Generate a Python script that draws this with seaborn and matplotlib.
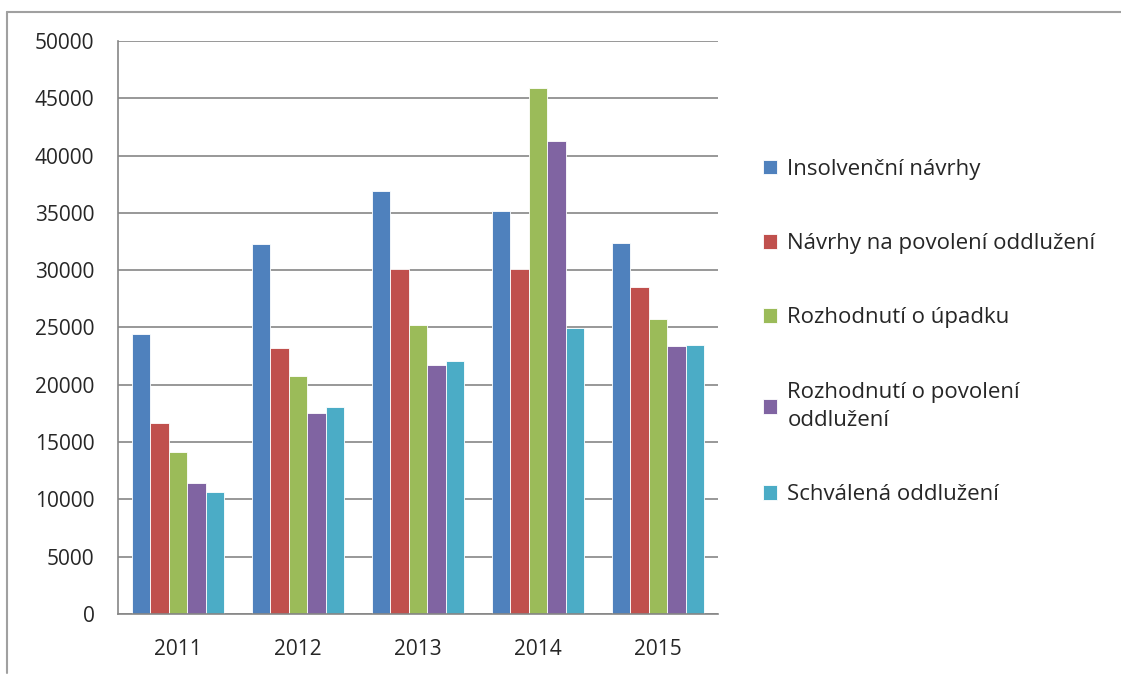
import pandas as pd
import matplotlib.pyplot as plt
import seaborn as sns
from matplotlib.lines import Line2D

# Data
years = ['2011', '2012', '2013', '2014', '2015']
insolvencni_navrhy = [24400, 32300, 36950, 35200, 32400]
navrhy_oddluzeni = [16650, 23200, 30100, 30080, 28550]
rozhodnuti_upadek = [14100, 20750, 25200, 45900, 25750]
rozhodnuti_povoleni = [11400, 17500, 21700, 41250, 23350]
schvalena_oddluzeni = [10650, 18050, 22100, 24950, 23450]

series_names = ['Insolvenční návrhy', 'Návrhy na povolení oddlužení',
                'Rozhodnutí o úpadku', 'Rozhodnutí o povolení\noddlužení',
                'Schválená oddlužení']
series_values = [insolvencni_navrhy, navrhy_oddluzeni, rozhodnuti_upadek,
                 rozhodnuti_povoleni, schvalena_oddluzeni]
colors = ['#4F81BD', '#C0504D', '#9BBB59', '#8064A2', '#4BACC6']

rows = []
for name, vals in zip(series_names, series_values):
    for y, v in zip(years, vals):
        rows.append({'Rok': y, 'Počet': v, 'Série': name})
df = pd.DataFrame(rows)

sns.set_style('white')
plt.rcParams['font.family'] = ['Open Sans', 'DejaVu Sans']

fig = plt.figure(figsize=(11.21, 6.75), dpi=100)
ax = fig.add_axes([118 / 1121, 61 / 675, 600 / 1121, 573 / 675])

sns.barplot(data=df, x='Rok', y='Počet', hue='Série', palette=colors,
            width=0.77, gap=0, edgecolor='white', linewidth=0.6,
            saturation=1, ax=ax)

ax.set_ylim(0, 50000)
ax.set_xlim(-0.5, 4.5)
ax.set_yticks(range(0, 50001, 5000))
ax.yaxis.grid(True, color='#868686', linewidth=1.2)
ax.set_axisbelow(True)
ax.set_xlabel('')
ax.set_ylabel('')

for s in ['top', 'right']:
    ax.spines[s].set_visible(False)
for s in ['left', 'bottom']:
    ax.spines[s].set_color('#868686')
    ax.spines[s].set_linewidth(1.2)

ax.tick_params(axis='y', direction='out', length=9, color='#868686',
               width=1.2, labelsize=15, pad=8)
ax.tick_params(axis='x', which='major', length=0, labelsize=15, pad=18)
ax.set_xticks([i - 0.5 for i in range(6)], minor=True)
ax.tick_params(axis='x', which='minor', direction='out', length=7,
               color='#868686', width=1.2)

leg = ax.legend(loc='upper left', bbox_to_anchor=(1.06, 0.81), frameon=False,
                fontsize=16, labelspacing=2.4, handlelength=0.65,
                handleheight=0.65, handletextpad=0.45, borderaxespad=0)
for t in leg.get_texts():
    t.set_linespacing(1.45)

# outer frame of the chart (top and left edges only)
fig.add_artist(Line2D([7 / 1121, 1.0], [1 - 12 / 675, 1 - 12 / 675],
                      transform=fig.transFigure, color='#A0A0A0', linewidth=1.5))
fig.add_artist(Line2D([7 / 1121, 7 / 1121], [2 / 675, 1 - 12 / 675],
                      transform=fig.transFigure, color='#A0A0A0', linewidth=1.5))

plt.savefig('out.png', dpi=100)
plt.close()
